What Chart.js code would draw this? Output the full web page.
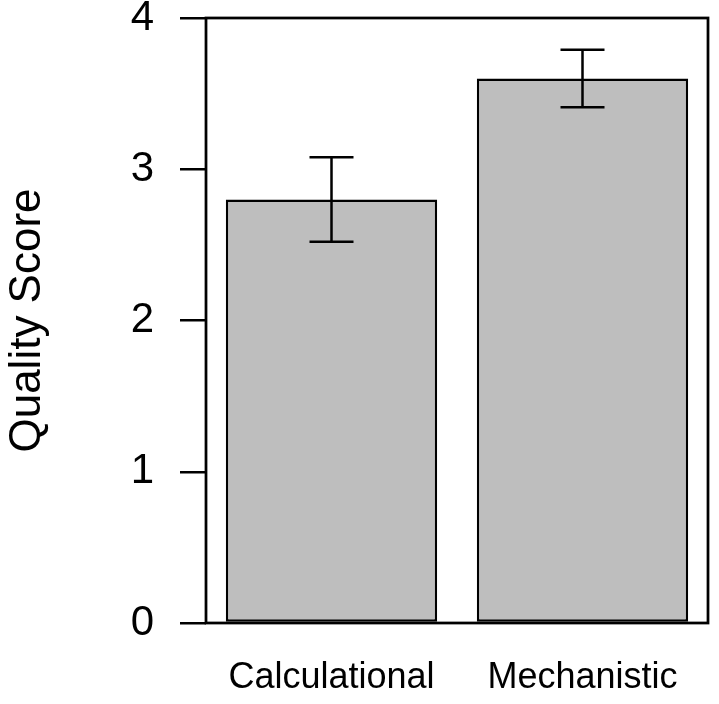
<!DOCTYPE html>
<html>
<head>
<meta charset="utf-8">
<script src="https://cdn.jsdelivr.net/npm/chart.js@4.4.1/dist/chart.umd.min.js"></script>
<style>
  html, body { margin: 0; padding: 0; background: #ffffff; }
  #wrap { width: 719px; height: 704px; }
</style>
</head>
<body>
<div id="wrap"><canvas id="scoreChart" width="719" height="704"></canvas></div>
<script>
// --- data ---
const categories = ['Calculational', 'Mechanistic'];
const meanScores = [2.80, 3.60];
const errLower = [2.52, 3.41];
const errUpper = [3.08, 3.79];
const yTicks = [0, 1, 2, 3, 4];

const FONT = '"Liberation Sans", Arial, Helvetica, sans-serif';

// Full box round the plot region (like R's box())
const boxPlugin = {
    id: 'plotBox',
    afterDraw(chart) {
        const { ctx, chartArea } = chart;
        ctx.save();
        ctx.strokeStyle = '#000000';
        ctx.lineWidth = 2.75;
        ctx.strokeRect(chartArea.left, chartArea.top,
            chartArea.right - chartArea.left, chartArea.bottom - chartArea.top);
        ctx.restore();
    }
};

// Error bars with caps, placed through the chart's scales
const errorBarPlugin = {
    id: 'errorBars',
    afterDatasetsDraw(chart) {
        const { ctx } = chart;
        const yScale = chart.scales.y;
        const meta = chart.getDatasetMeta(0);
        ctx.save();
        ctx.strokeStyle = '#000000';
        ctx.lineWidth = 2.5;
        meta.data.forEach((bar, i) => {
            const x = bar.x;
            const yHi = yScale.getPixelForValue(errUpper[i]);
            const yLo = yScale.getPixelForValue(errLower[i]);
            const cap = 22;
            ctx.beginPath();
            ctx.moveTo(x, yHi);
            ctx.lineTo(x, yLo);
            ctx.moveTo(x - cap, yHi);
            ctx.lineTo(x + cap, yHi);
            ctx.moveTo(x - cap, yLo);
            ctx.lineTo(x + cap, yLo);
            ctx.stroke();
        });
        ctx.restore();
    }
};

const ctx = document.getElementById('scoreChart').getContext('2d');

new Chart(ctx, {
    type: 'bar',
    data: {
        labels: categories,
        datasets: [{
            data: meanScores,
            backgroundColor: '#bebebe',
            borderColor: '#000000',
            borderWidth: 2.5,
            borderSkipped: false,
            categoryPercentage: 1.0,
            barPercentage: 0.842
        }]
    },
    options: {
        responsive: false,
        animation: false,
        layout: {
            padding: { top: 18, right: 11, left: 0, bottom: 0 }
        },
        plugins: {
            legend: { display: false },
            tooltip: { enabled: false }
        },
        scales: {
            x: {
                grid: { display: false, drawTicks: false },
                border: { display: false },
                ticks: {
                    color: '#000000',
                    padding: 33,
                    font: { family: FONT, size: 36 }
                },
                afterFit(scale) {
                    scale.height = 81;
                    scale.paddingLeft = 0;
                    scale.paddingRight = 0;
                }
            },
            y: {
                min: 0,
                max: 4,
                afterBuildTicks(scale) {
                    scale.ticks = yTicks.map(v => ({ value: v }));
                },
                grid: {
                    drawOnChartArea: false,
                    drawTicks: true,
                    tickLength: 26,
                    color: '#000000',
                    lineWidth: 2.5
                },
                border: { display: false },
                ticks: {
                    color: '#000000',
                    padding: 26,
                    font: { family: FONT, size: 42 }
                },
                title: {
                    display: true,
                    text: 'Quality Score',
                    color: '#000000',
                    padding: { top: 3, bottom: 0 },
                    font: { family: FONT, size: 44, lineHeight: 1.15 }
                },
                afterFit(scale) {
                    scale.width = 206;
                    scale.paddingTop = 0;
                    scale.paddingBottom = 0;
                }
            }
        }
    },
    plugins: [errorBarPlugin, boxPlugin]
});
</script>
</body>
</html>
